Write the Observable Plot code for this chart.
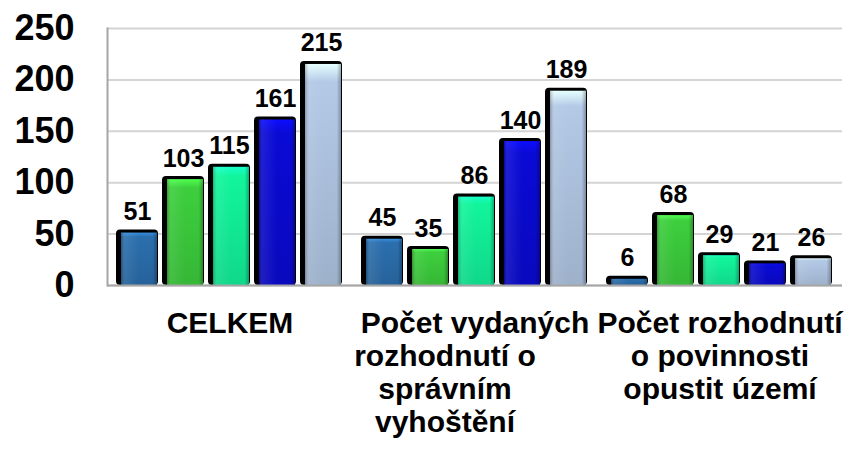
<!DOCTYPE html>
<html>
<head>
<meta charset="utf-8">
<script src="https://cdn.jsdelivr.net/npm/d3@7"></script>
<script src="https://cdn.jsdelivr.net/npm/@observablehq/plot@0.6"></script>
<style>
  html, body { margin: 0; padding: 0; background: #ffffff; }
  #chart { width: 845px; height: 449px; overflow: hidden; }
</style>
</head>
<body>
<div id="chart"></div>
<script>
const categories = [
  "CELKEM",
  "Počet vydaných\nrozhodnutí o\nsprávním\nvyhoštění",
  "Počet rozhodnutí\no povinnosti\nopustit území"
];
const series = ["řada 1", "řada 2", "řada 3", "řada 4", "řada 5"];
const celkem = [51, 103, 115, 161, 215];
const vyhosteni = [45, 35, 86, 140, 189];
const opustit = [6, 68, 29, 21, 26];
const seriesColors = ["#2b6fae", "#3dcf3d", "#12f59c", "#0a0ad6", "#b3c9e6"];
const yTicks = [0, 50, 100, 150, 200, 250];

const groups = [celkem, vyhosteni, opustit];
const data = categories.flatMap((c, i) => series.map((s, j) => ({cat: c, s, v: groups[i][j]})));

const chart = Plot.plot({
  width: 845,
  height: 449,
  marginLeft: 106,
  marginRight: 3,
  marginTop: 28,
  marginBottom: 164,
  style: {fontFamily: "'Liberation Sans', Arial, sans-serif", fontWeight: "bold", color: "#000", background: "#fff", overflow: "visible"},
  fx: {domain: categories, padding: 0},
  x: {domain: series, paddingInner: 0.08, paddingOuter: 0.18, axis: null},
  y: {domain: [0, 250]},
  color: {domain: series, range: series.map((s, i) => `url(#g${i})`)},
  marks: [
    Plot.gridY(yTicks, {stroke: "#d4d4d4", strokeOpacity: 1, strokeWidth: 2}),
    Plot.axisY(yTicks, {tickSize: 0, tickPadding: 33, fontSize: 36, fontWeight: "bold", label: null}),
    Plot.axisFx({anchor: "bottom", tickSize: 0, tickPadding: 24, fontSize: 30, lineHeight: 1.1, fontWeight: "bold", label: null}),
    Plot.barY(data, {fx: "cat", x: "s", y: "v", fill: "#000", insetTop: -3, rx: 4}),
    Plot.barY(data, {fx: "cat", x: "s", y: "v", fill: "s", insetLeft: 5, insetRight: 1}),
    Plot.barY(data, {fx: "cat", x: "s", y: "v", fill: "url(#bevel)", insetLeft: 5, insetRight: 1}),
    Plot.ruleY([0], {stroke: "#a6a6a6", strokeWidth: 2}),
    Plot.frame({anchor: "left", facet: "super", stroke: "#a6a6a6", strokeWidth: 2}),
    Plot.text(data, {fx: "cat", x: "s", y: "v", text: d => String(d.v), dy: -13, lineAnchor: "bottom", fontSize: 25, fontWeight: "bold", fill: "#000"})
  ]
});

const svg = d3.select(chart);
const defs = svg.insert("defs", ":first-child");
seriesColors.forEach((c, i) => {
  const g = defs.append("linearGradient").attr("id", `g${i}`).attr("x1", 0).attr("y1", 0).attr("x2", 0).attr("y2", 1);
  g.append("stop").attr("offset", 0).attr("stop-color", d3.color(c).brighter(0.7).formatHex());
  g.append("stop").attr("offset", 0.08).attr("stop-color", c);
  g.append("stop").attr("offset", 1).attr("stop-color", d3.color(c).darker(0.35).formatHex());
});
const b = defs.append("linearGradient").attr("id", "bevel").attr("x1", 0).attr("y1", 0).attr("x2", 1).attr("y2", 0);
[[0, "#000", 0.25], [0.12, "#fff", 0.08], [0.5, "#fff", 0], [0.88, "#000", 0], [1, "#000", 0.28]].forEach(([o, c, a]) => {
  b.append("stop").attr("offset", o).attr("stop-color", c).attr("stop-opacity", a);
});

// second category: lines after the first are set further left, as in the source
svg.selectAll("text").filter(function () { return this.textContent.startsWith("Počet vydaných"); })
  .selectAll("tspan").filter((d, i) => i > 0).attr("dx", -30);

document.getElementById("chart").appendChild(chart);
</script>
</body>
</html>
